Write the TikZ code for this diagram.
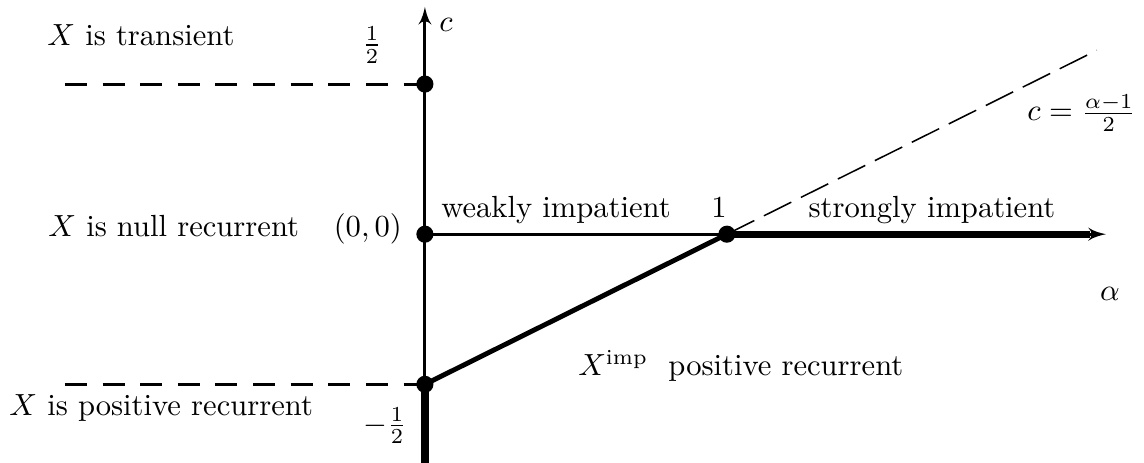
\documentclass[tikz,border=0pt]{standalone}
\usepackage{amsmath,amssymb}
\usepackage{tikz}
\usetikzlibrary{arrows}

\begin{document}
\begin{tikzpicture}[x=3.47cm, y=3.45cm, line width=1pt]
            \useasboundingbox (-1.407,-0.76) rectangle (2.381,0.78);

            % Points
            \coordinate (O) at (0,0);
            \coordinate (one) at (1,0);
            \coordinate (half) at (0,0.5);
            \coordinate (mhalf) at (0,-0.5);
            \coordinate (ctop) at (0,0.757);
            \coordinate (cbot) at (0,-0.78);
            \coordinate (atop) at (2.255,0);
            \coordinate (athick) at (2.202,0);
            \coordinate (lineend) at (2.225,0.6125);
            \coordinate (lhalf) at (-1.192,0.5);
            \coordinate (lmhalf) at (-1.192,-0.5);

            % Axis
            \draw[-latex'] (cbot) -- (ctop);
            \draw[-latex'] (O) -- (atop);

            % Levels c = 1/2 and c = -1/2
            \draw[dash pattern=on 7.2pt off 5.1pt] (lhalf) -- (half);
            \draw[dash pattern=on 7.2pt off 5.1pt] (lmhalf) -- (mhalf);

            % Line c = (alpha-1)/2
            \draw[line width=0.5pt, dash pattern=on 10pt off 3.5pt] (one) -- (lineend);
            \draw[line width=1.6pt] (mhalf) -- (one);
            \draw[line width=2.4pt] (one) -- (athick);
            \draw[line width=2.4pt] (mhalf) -- (cbot);

            % Dots
            \foreach \p in {half,O,mhalf,one}
                \fill (\p) circle (2.8pt);

            % Labels
            \node (clab) at (0.07,0.697) {$c$};
            \node (alab) at (2.268,-0.2) {$\alpha$};
            \node (halflab) at (-0.175,0.63) {$\frac{1}{2}$};
            \node (mhalflab) at (-0.132,-0.637) {$-\frac{1}{2}$};
            \node[anchor=base] (origin) at (-0.189,-0.007) {$(0,0)$};
            \node[anchor=base] (onelab) at (0.974,0.055) {$1$};
            \node[anchor=base] (weak) at (0.434,0.055) {weakly impatient};
            \node[anchor=base] (strong) at (1.679,0.055) {strongly impatient};
            \node[anchor=base] (imp) at (1.046,-0.47) {$X^{\text{imp}}$\ \ positive recurrent};
            \node[anchor=west, inner sep=0pt] (slope) at (1.99,0.403) {$c=\frac{\alpha-1}{2}$};
            \node[anchor=base west, inner sep=0pt] (trans) at (-1.255,0.63) {$X$ is transient};
            \node[anchor=base west, inner sep=0pt] (null) at (-1.252,-0.007) {$X$ is null recurrent};
            \node[anchor=base west, inner sep=0pt] (pos) at (-1.381,-0.603) {$X$ is positive recurrent};

        \end{tikzpicture}
\end{document}
